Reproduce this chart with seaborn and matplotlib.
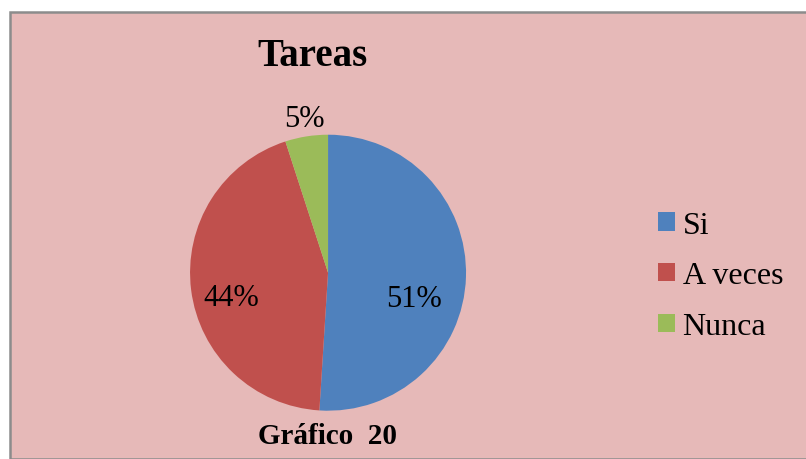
import matplotlib
matplotlib.use("Agg")
import matplotlib.pyplot as plt
from matplotlib.patches import Rectangle, Patch
import seaborn as sns

# datos
categorias = ["Si", "A veces", "Nunca"]
valores = [51, 44, 5]
colores = ["#4F81BD", "#C0504D", "#9BBB59"]
titulo = "Tareas"
pie_grafico = "Gráfico  20"

sns.set_theme(style="white")
plt.rcParams['font.family'] = ['Liberation Serif', 'DejaVu Serif']
plt.rcParams['text.color'] = 'black'

fig = plt.figure(figsize=(8.06, 4.60), dpi=100, facecolor="white")

# fondo rosado con borde gris
fig.patches.append(Rectangle((10/806, 0), 1.0, 1 - 13/460, transform=fig.transFigure,
                             facecolor="#E6B9B8", edgecolor="#8C8C8C", linewidth=1.8, zorder=-10))

ax = fig.add_axes([0.407 - 0.1712, 0.405 - 0.30, 0.3424, 0.60])
wedges, textos, pcts = ax.pie(valores, colors=sns.color_palette(colores), startangle=90,
                              counterclock=False, autopct="%1.0f%%",
                              wedgeprops=dict(linewidth=0),
                              textprops=dict(fontsize=22, color="black"))
for t in textos:
    t.set_text("")
# posiciones de etiquetas (como Excel "mejor ajuste")
pos = [(0.62, -0.19), (-0.70, -0.18), (-0.17, 1.12)]
for p, xy in zip(pcts, pos):
    p.set_position(xy)
ax.set_xlim(-1, 1)
ax.set_ylim(-1, 1)
ax.set_aspect("equal")
ax.patch.set_alpha(0)
ax.set_zorder(2)

fig.text(312/806, 1 - 57/460, titulo, ha="center", va="center", fontsize=28,
         fontweight="bold", color="black")
fig.text(328/806, 1 - 437/460, pie_grafico, ha="center", va="center", fontsize=21,
         fontweight="bold", color="black")

handles = [Patch(facecolor=c, edgecolor="none") for c in colores]
fig.legend(handles, categorias, loc="center left", bbox_to_anchor=(658/806, 1 - 277/460),
           frameon=False, fontsize=23, handlelength=0.52, handleheight=0.52,
           handletextpad=0.25, labelspacing=0.68, borderpad=0, borderaxespad=0,
           labelcolor="black")

fig.savefig("out.png", dpi=100, facecolor="white")
